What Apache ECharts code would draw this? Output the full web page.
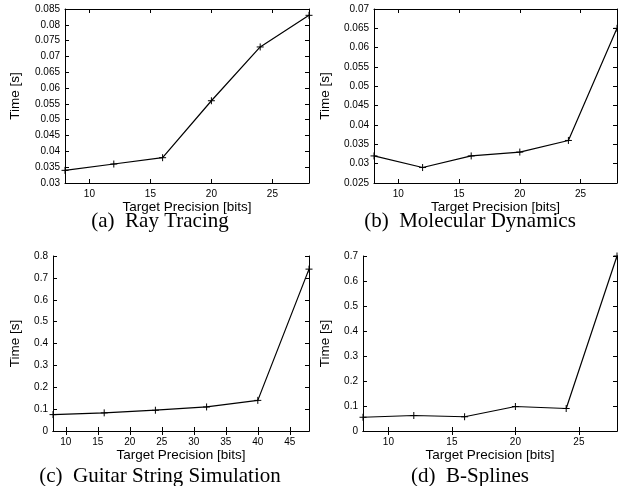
<!DOCTYPE html>
<html lang="en">
<head>
    <meta charset="UTF-8">
    <title>Target precision vs time</title>
    <script type="text/javascript" src="https://cdn.jsdelivr.net/npm/echarts@6/dist/echarts.min.js"></script>
    <style>
        body { margin: 0; background: #fff; }
        #main { width: 618px; height: 486px; }
    </style>
</head>
<body>
    <div id="main"></div>
</body>

<script type="text/javascript">
    // bits of precision (x) and run time in seconds (y) per benchmark
    var bitsA = [8, 12, 16, 20, 24, 28];
    var timeA = [0.034, 0.036, 0.038, 0.056, 0.073, 0.083];

    var bitsB = [8, 12, 16, 20, 24, 28];
    var timeB = [0.032, 0.029, 0.032, 0.033, 0.036, 0.065];

    var bitsC = [8, 16, 24, 32, 40, 48];
    var timeC = [0.075, 0.083, 0.095, 0.11, 0.14, 0.74];

    var bitsD = [8, 12, 16, 20, 24, 28];
    var timeD = [0.055, 0.062, 0.057, 0.098, 0.09, 0.70];

    var xTicks28 = [10, 15, 20, 25];
    var xTicks48 = [10, 15, 20, 25, 30, 35, 40, 45];

    var captions = ['(a)  Ray Tracing', '(b)  Molecular Dynamics',
                    '(c)  Guitar String Simulation', '(d)  B-Splines'];

    var sans = 'Liberation Sans';
    var serif = 'Liberation Serif';

    // plot boxes
    var grids = [
        {left: 65, top: 9, width: 244, height: 174},
        {left: 374, top: 9, width: 243, height: 174},
        {left: 53, top: 256, width: 256, height: 175},
        {left: 363, top: 256, width: 254, height: 175}
    ];
    var xRange = [[8, 28, xTicks28], [8, 28, xTicks28], [8, 48, xTicks48], [8, 28, xTicks28]];
    var yRange = [[0.03, 0.085, 0.005], [0.025, 0.07, 0.005], [0, 0.8, 0.1], [0, 0.7, 0.1]];
    var yNameGap = [43, 42, 31, 31];
    var series = [[bitsA, timeA], [bitsB, timeB], [bitsC, timeC], [bitsD, timeD]];

    var line = {show: true, lineStyle: {color: '#000', width: 1}};
    var xAxes = [], yAxes = [], seriesList = [], titles = [];

    for (var i = 0; i < 4; i++) {
        var xr = xRange[i], yr = yRange[i];
        xAxes.push({
            type: 'value', gridIndex: i, position: 'bottom',
            min: xr[0], max: xr[1],
            name: 'Target Precision [bits]', nameLocation: 'middle', nameGap: 16,
            nameTextStyle: {fontFamily: sans, fontSize: 13.5, color: '#000'},
            axisLine: line,
            axisTick: {show: true, inside: true, length: 4, customValues: xr[2], lineStyle: {color: '#000'}},
            axisLabel: {customValues: xr[2], fontFamily: sans, fontSize: 10, color: '#000', margin: 6},
            splitLine: {show: false}
        });
        xAxes.push({
            type: 'value', gridIndex: i, position: 'top',
            min: xr[0], max: xr[1],
            axisLine: line,
            axisTick: {show: true, inside: true, length: 4, customValues: xr[2], lineStyle: {color: '#000'}},
            axisLabel: {show: false},
            splitLine: {show: false}
        });
        yAxes.push({
            type: 'value', gridIndex: i, position: 'left',
            min: yr[0], max: yr[1], interval: yr[2],
            name: 'Time [s]', nameLocation: 'middle', nameGap: yNameGap[i],
            nameTextStyle: {fontFamily: sans, fontSize: 13.5, color: '#000'},
            axisLine: line,
            axisTick: {show: true, inside: true, length: 4, lineStyle: {color: '#000'}},
            axisLabel: {fontFamily: sans, fontSize: 10, color: '#000', margin: 5},
            splitLine: {show: false}
        });
        yAxes.push({
            type: 'value', gridIndex: i, position: 'right',
            min: yr[0], max: yr[1], interval: yr[2],
            axisLine: line,
            axisTick: {show: true, inside: true, length: 4, lineStyle: {color: '#000'}},
            axisLabel: {show: false},
            splitLine: {show: false}
        });

        var pts = [];
        for (var k = 0; k < series[i][0].length; k++) {
            pts.push([series[i][0][k], series[i][1][k]]);
        }
        seriesList.push({
            type: 'line', xAxisIndex: i * 2, yAxisIndex: i * 2,
            data: pts,
            symbol: 'path://M0,5L10,5M5,0L5,10', symbolSize: 7,
            itemStyle: {color: 'rgba(0,0,0,0)', borderColor: '#000', borderWidth: 1},
            lineStyle: {color: '#000', width: 1.2},
            clip: false,
            animation: false
        });

        titles.push({
            text: captions[i],
            left: i % 2 === 0 ? 155 : 465,
            top: i < 2 ? 206 : 461,
            textAlign: 'center',
            textStyle: {fontFamily: serif, fontSize: 21, fontWeight: 'normal', color: '#000'}
        });
    }

    var myChart = echarts.init(document.getElementById('main'));
    myChart.setOption({
        backgroundColor: '#fff',
        animation: false,
        title: titles,
        grid: grids,
        xAxis: xAxes,
        yAxis: yAxes,
        series: seriesList
    });
</script>
</html>
